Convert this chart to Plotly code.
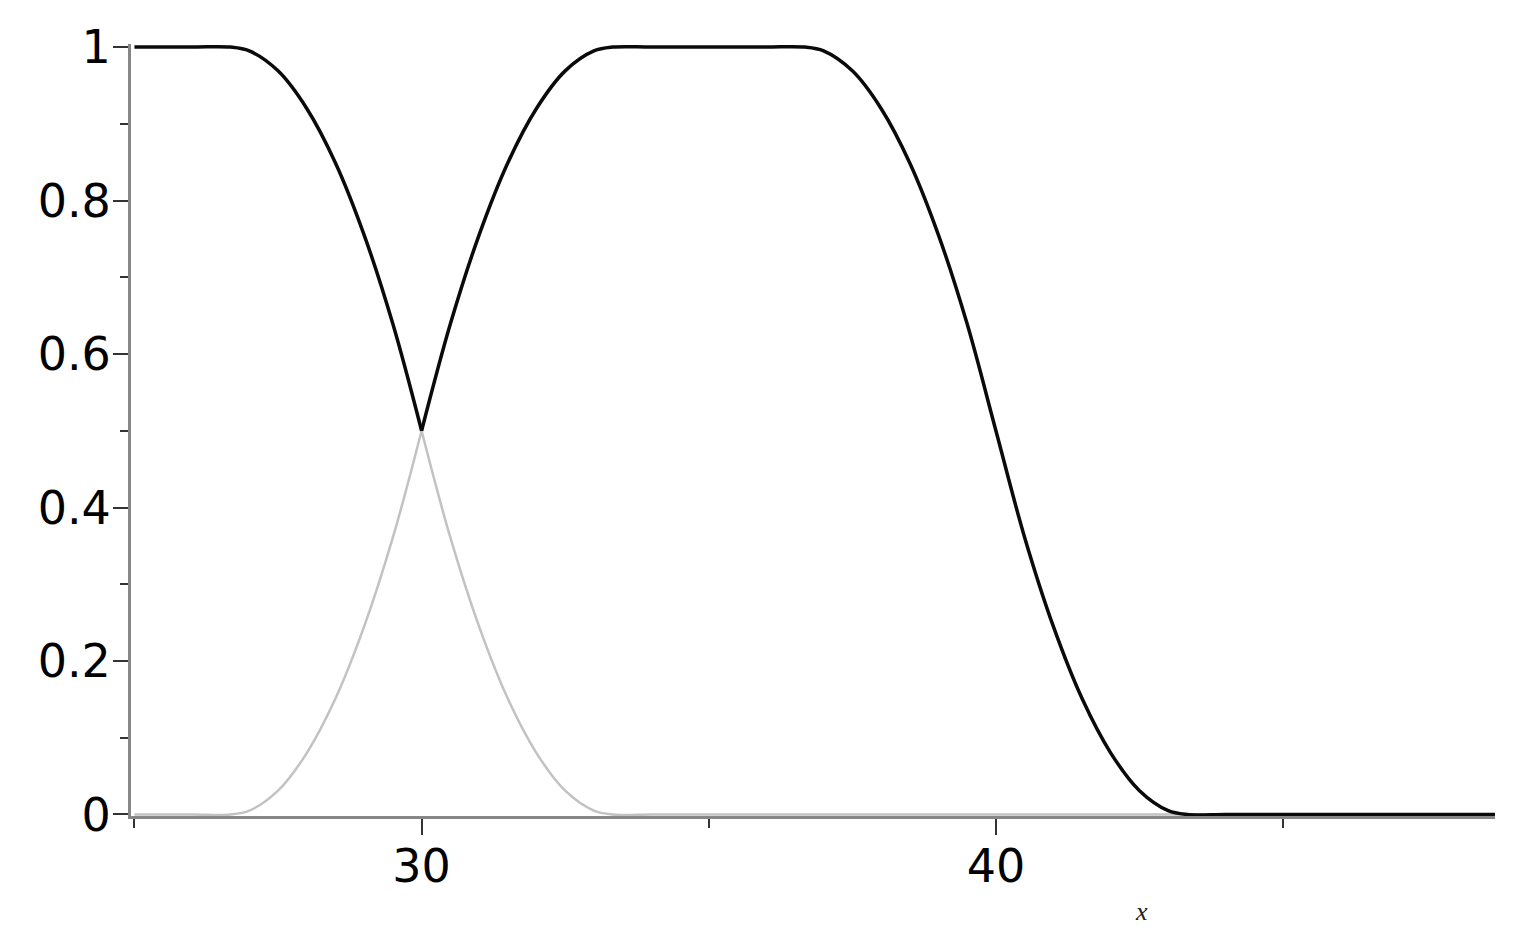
import plotly.graph_objects as go

# values (membership curves, black = upper envelope, grey = lower)
x_left = [25, 26, 26.67, 27, 27.5, 28, 28.5, 29, 29.5, 30]
black_left = [1, 1, 1, 0.995, 0.969, 0.92, 0.849, 0.755, 0.639, 0.5]
grey_left = [0, 0, 0, 0.005, 0.031, 0.08, 0.151, 0.245, 0.361, 0.5]

x_right = [30, 30.5, 31, 31.5, 32, 32.5, 33, 33.33, 34, 35, 36, 36.67, 37, 37.5,
           38, 38.5, 39, 39.5, 40, 40.5, 41, 41.5, 42, 42.5, 43, 43.33, 44, 45,
           46, 47, 48.69]
black_right = [0.5, 0.639, 0.755, 0.849, 0.92, 0.969, 0.995, 1, 1, 1, 1, 1, 0.995,
               0.969, 0.92, 0.849, 0.755, 0.639, 0.5, 0.361, 0.245, 0.151, 0.08,
               0.031, 0.005, 0, 0, 0, 0, 0, 0]
grey_right = [0.5, 0.361, 0.245, 0.151, 0.08, 0.031, 0.005, 0, 0, 0, 0, 0, 0, 0,
              0, 0, 0, 0, 0, 0, 0, 0, 0, 0, 0, 0, 0, 0, 0, 0, 0]

y_ticks = [0, 0.2, 0.4, 0.6, 0.8, 1]
y_ticktext = ["0", "0.2", "0.4", "0.6", "0.8", "1"]
x_ticks = [30, 40]
x_ticktext = ["30", "40"]

AXIS_GREY = "#878787"
TICK_COL = "#333333"
FONT = "DejaVu Sans"

fig = go.Figure()

# grey curve underneath
for xs, ys in [(x_left, grey_left), (x_right, grey_right)]:
    fig.add_trace(go.Scatter(
        x=xs, y=ys, mode="lines",
        line=dict(color="#c2c2c2", width=2.5, shape="spline"),
        hoverinfo="skip", showlegend=False,
    ))

# black curve on top
for xs, ys in [(x_left, black_left), (x_right, black_right)]:
    fig.add_trace(go.Scatter(
        x=xs, y=ys, mode="lines",
        line=dict(color="#0a0a0a", width=3.5, shape="spline"),
        hoverinfo="skip", showlegend=False,
    ))

# page body adds an 8px offset, so the figure is a bit smaller than the window
fig.update_layout(
    width=1506,
    height=930,
    margin=dict(l=123, r=19, t=32, b=122),
    paper_bgcolor="white",
    plot_bgcolor="white",
    xaxis=dict(
        range=[24.94, 48.69],
        showgrid=False, zeroline=False,
        showline=True, linecolor=AXIS_GREY, linewidth=3,
        layer="below traces",
        tickmode="array", tickvals=x_ticks, ticktext=x_ticktext,
        ticks="outside", ticklen=16, tickwidth=2, tickcolor=TICK_COL,
        ticklabelstandoff=-8,
        minor=dict(tickmode="array", tickvals=[25, 35, 45], ticks="outside",
                   ticklen=9, tickwidth=2, tickcolor=TICK_COL, showgrid=False),
        tickfont=dict(family=FONT, size=46, color="black"),
    ),
    yaxis=dict(
        range=[-0.002, 1.004],
        showgrid=False, zeroline=False,
        showline=True, linecolor=AXIS_GREY, linewidth=3,
        layer="below traces",
        tickmode="array", tickvals=y_ticks, ticktext=y_ticktext,
        ticks="outside", ticklen=15, tickwidth=2, tickcolor=TICK_COL,
        ticklabelstandoff=-7,
        minor=dict(dtick=0.1, ticks="outside", ticklen=8, tickwidth=2,
                   tickcolor=TICK_COL, showgrid=False),
        tickfont=dict(family=FONT, size=46, color="black"),
    ),
    annotations=[dict(
        text="<i>x</i>", xref="paper", yref="paper",
        x=0.741, y=-0.124, xanchor="center", yanchor="middle",
        showarrow=False,
        font=dict(family="Liberation Serif", size=26, color="#222222"),
    )],
)

fig.write_html("out.html")
